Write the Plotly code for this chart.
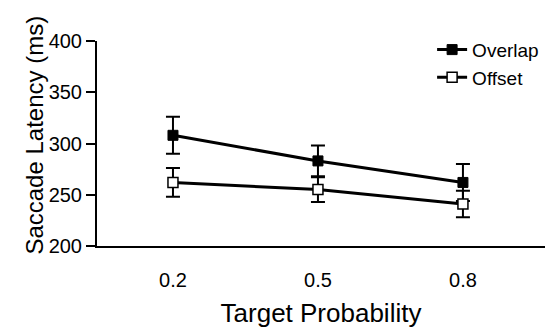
import plotly.graph_objects as go

probabilities = ["0.2", "0.5", "0.8"]
overlap_mean = [308, 283, 262]
overlap_err = [18, 15, 18]
offset_mean = [262, 255, 241]
offset_err = [14, 12, 13]

xpos = list(range(len(probabilities)))
FONT = "Liberation Sans, Arial, sans-serif"

fig = go.Figure()
fig.add_trace(go.Scatter(
    x=xpos, y=overlap_mean, name="Overlap", mode="lines+markers",
    line=dict(color="black", width=3),
    marker=dict(symbol="square", size=10, color="black", line=dict(color="black", width=1)),
    error_y=dict(type="data", array=overlap_err, visible=True, color="black", thickness=2, width=7),
))
fig.add_trace(go.Scatter(
    x=xpos, y=offset_mean, name="Offset", mode="lines+markers",
    line=dict(color="black", width=3),
    marker=dict(symbol="square", size=10, color="white", line=dict(color="black", width=1.5)),
    error_y=dict(type="data", array=offset_err, visible=True, color="black", thickness=2, width=7),
))

fig.update_layout(
    width=554, height=330,
    margin=dict(l=89, r=17, t=33, b=92),
    paper_bgcolor="white", plot_bgcolor="white",
    font=dict(family=FONT, color="black", size=20),
    showlegend=True,
    legend=dict(x=0.748, y=1.05, xanchor="left", yanchor="top",
                bgcolor="rgba(0,0,0,0)", font=dict(size=19),
                tracegroupgap=0, itemwidth=30),
    annotations=[dict(
        text="Saccade Latency (ms)", textangle=-90, showarrow=False,
        xref="paper", yref="paper", x=-0.14, y=0.54,
        xanchor="center", yanchor="middle", font=dict(size=24),
    )],
)
fig.update_xaxes(
    range=[-0.524, 2.566], tickvals=xpos, ticktext=probabilities,
    showline=True, linecolor="black", linewidth=2, showgrid=False, zeroline=False,
    ticks="outside", ticklen=15, tickcolor="rgba(0,0,0,0)",
    tickfont=dict(size=20), automargin=False,
    title=dict(text="Target Probability", font=dict(size=26), standoff=14),
)
fig.update_yaxes(
    range=[200, 400], tickvals=[200, 250, 300, 350, 400],
    showline=True, linecolor="black", linewidth=2, showgrid=False, zeroline=False,
    ticks="outside", ticklen=9, tickwidth=2, tickcolor="black",
    tickfont=dict(size=20), automargin=False,
)

fig.write_html("out.html")
